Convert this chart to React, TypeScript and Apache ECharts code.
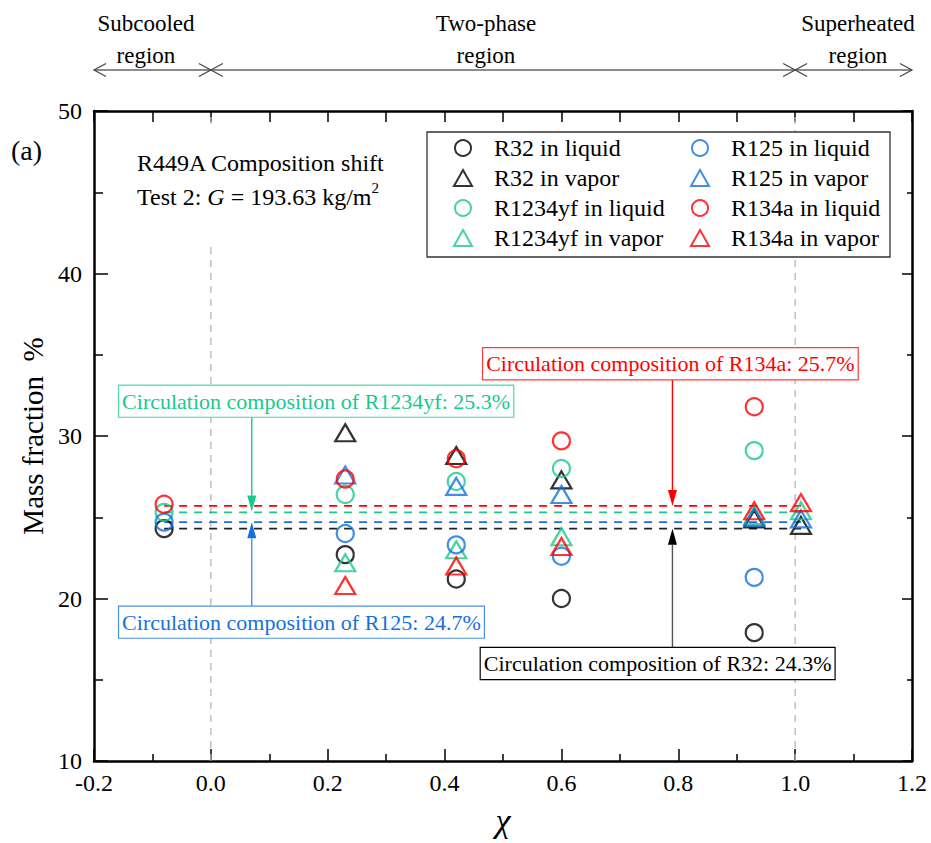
import React, { useEffect, useRef } from 'react';
import * as echarts from 'echarts';

const FONT = 'Liberation Serif';
const AXIS_FONT = "'Times New Roman', 'Liberation Serif', serif";

const C_R32 = '#000000';
const C_R1234YF = '#19c98b';
const C_R125 = '#1570e0';
const C_R134A = '#ff0000';

// vapor quality positions
const liquidX = [-0.08, 0.23, 0.42, 0.6, 0.93];
const vaporX = [0.23, 0.42, 0.6, 0.93, 1.01];

// mass fractions (%)
const r32Liquid = [24.3, 22.7, 21.2, 20.0, 17.9];
const r32Vapor = [30.2, 28.8, 27.3, 24.9, 24.5];
const r1234yfLiquid = [25.3, 26.4, 27.2, 28.0, 29.1];
const r1234yfVapor = [22.2, 23.0, 23.8, 25.1, 25.4];
const r125Liquid = [24.7, 24.0, 23.3, 22.6, 21.3];
const r125Vapor = [27.6, 26.9, 26.4, 25.0, 24.9];
const r134aLiquid = [25.8, 27.35, 28.6, 29.7, 31.8];
const r134aVapor = [20.8, 22.0, 23.2, 25.4, 25.9];

// circulation compositions (%)
const circR32 = 24.3;
const circR1234yf = 25.3;
const circR125 = 24.7;
const circR134a = 25.7;
const circStartX = -0.08;
const circEndX = 1.01;

// axes
const xMin = -0.2;
const xMax = 1.2;
const xInterval = 0.2;
const yMin = 10;
const yMax = 50;
const yInterval = 10;

// region boundaries
const boundaries = [0.0, 1.0];

const zip = (xs: number[], ys: number[]) => xs.map((x, i) => [x, ys[i]]);

const seriesDefs = [
  { name: 'R32 in liquid', xs: liquidX, ys: r32Liquid, color: C_R32, symbol: 'circle' },
  { name: 'R32 in vapor', xs: vaporX, ys: r32Vapor, color: C_R32, symbol: 'triangle' },
  { name: 'R1234yf in liquid', xs: liquidX, ys: r1234yfLiquid, color: C_R1234YF, symbol: 'circle' },
  { name: 'R1234yf in vapor', xs: vaporX, ys: r1234yfVapor, color: C_R1234YF, symbol: 'triangle' },
  { name: 'R125 in liquid', xs: liquidX, ys: r125Liquid, color: C_R125, symbol: 'circle' },
  { name: 'R125 in vapor', xs: vaporX, ys: r125Vapor, color: C_R125, symbol: 'triangle' },
  { name: 'R134a in liquid', xs: liquidX, ys: r134aLiquid, color: C_R134A, symbol: 'circle' },
  { name: 'R134a in vapor', xs: vaporX, ys: r134aVapor, color: C_R134A, symbol: 'triangle' },
];

const circDefs = [
  { v: circR134a, color: C_R134A },
  { v: circR1234yf, color: C_R1234YF },
  { v: circR125, color: C_R125 },
  { v: circR32, color: '#222222' },
];

function legendItem(d: any) {
  return {
    name: d.name,
    icon: d.symbol,
    itemStyle: { color: 'rgba(0,0,0,0)', borderColor: d.color, borderWidth: 2 },
  };
}

export default function App() {
  const ref = useRef<HTMLDivElement>(null);

  useEffect(() => {
    document.body.style.margin = '0';
    const el = ref.current!;
    const chart = echarts.init(el, null, { renderer: 'svg' });

    const axisCommon = {
      axisLine: { show: true, onZero: false, lineStyle: { color: '#000', width: 2.5 } },
      splitLine: { show: false },
      minorSplitLine: { show: false },
    };

    const legendCommon = {
      orient: 'vertical',
      top: 136,
      itemWidth: 18,
      itemHeight: 16,
      itemGap: 6,
      padding: 0,
      selectedMode: false,
      symbolKeepAspect: true,
      textStyle: { fontFamily: FONT, fontSize: 24, color: '#000', padding: [0, 0, 0, 17] },
      z: 10,
    };

    const option: any = {
      animation: false,
      backgroundColor: '#fff',
      textStyle: { fontFamily: FONT },
      grid: { left: 94, right: 19, top: 111, bottom: 82, containLabel: false },
      xAxis: [
        {
          type: 'value',
          position: 'bottom',
          min: xMin,
          max: xMax,
          interval: xInterval,
          ...axisCommon,
          axisTick: { show: true, inside: true, length: 12, lineStyle: { color: '#000', width: 1.5 } },
          minorTick: { show: true, splitNumber: 2, length: 7, lineStyle: { color: '#000', width: 1.5 } },
          axisLabel: {
            fontFamily: AXIS_FONT,
            fontSize: 24,
            color: '#000',
            margin: 10,
            formatter: (v: number) => v.toFixed(1),
          },
          name: 'χ',
          nameLocation: 'middle',
          nameGap: 42,
          nameTextStyle: { fontFamily: AXIS_FONT, fontSize: 34, fontStyle: 'italic', color: '#000' },
        },
        {
          type: 'value',
          position: 'top',
          min: xMin,
          max: xMax,
          interval: xInterval,
          ...axisCommon,
          axisTick: { show: true, inside: true, length: 11, lineStyle: { color: '#000', width: 1.5 } },
          minorTick: { show: true, splitNumber: 2, length: 11, lineStyle: { color: '#000', width: 1.5 } },
          axisLabel: { show: false },
        },
      ],
      yAxis: [
        {
          type: 'value',
          position: 'left',
          min: yMin,
          max: yMax,
          interval: yInterval,
          ...axisCommon,
          axisTick: { show: true, inside: true, length: 14, lineStyle: { color: '#000', width: 1.5 } },
          minorTick: { show: true, splitNumber: 2, length: 9, lineStyle: { color: '#000', width: 1.5 } },
          axisLabel: { fontFamily: AXIS_FONT, fontSize: 24, color: '#000', margin: 12 },
          name: 'Mass fraction  %',
          nameLocation: 'middle',
          nameGap: 42,
          nameTextStyle: { fontFamily: FONT, fontSize: 29, color: '#000' },
        },
        {
          type: 'value',
          position: 'right',
          min: yMin,
          max: yMax,
          interval: yInterval,
          ...axisCommon,
          axisTick: { show: true, inside: true, length: 10, lineStyle: { color: '#000', width: 1.5 } },
          minorTick: { show: true, splitNumber: 2, length: 5, lineStyle: { color: '#000', width: 1.5 } },
          axisLabel: { show: false },
        },
      ],
      legend: [
        { ...legendCommon, left: 453, data: seriesDefs.slice(0, 4).map(legendItem) },
        { ...legendCommon, left: 690, data: seriesDefs.slice(4).map(legendItem) },
      ],
      series: [
        ...boundaries.map((b) => ({
          type: 'line',
          silent: true,
          symbol: 'none',
          z: 1,
          data: [
            [b, yMin],
            [b, yMax],
          ],
          lineStyle: { color: '#b5b5b5', width: 1.3, type: [7, 6] },
        })),
        ...circDefs.map((c) => ({
          type: 'line',
          silent: true,
          symbol: 'none',
          z: 2,
          data: [
            [circStartX, c.v],
            [circEndX, c.v],
          ],
          lineStyle: { color: c.color, width: 1.6, type: [8, 7] },
        })),
        ...seriesDefs.map((d) => ({
          name: d.name,
          type: 'scatter',
          symbol: d.symbol,
          symbolSize: d.symbol === 'circle' ? 17 : [20, 17],
          z: 5,
          data: zip(d.xs, d.ys),
          itemStyle: { color: 'rgba(0,0,0,0)', borderColor: d.color, borderWidth: 2.2 },
        })),
      ],
    };

    chart.setOption(option);

    const px = (x: number, y: number) => chart.convertToPixel({ xAxisIndex: 0, yAxisIndex: 0 }, [x, y]) as number[];

    const BOX_H = 31;
    const boxText = (text: string, x: number, y: number, color: string, border: string) => ({
      type: 'text',
      z: 20,
      silent: true,
      style: {
        x,
        y,
        text,
        fontFamily: FONT,
        fontSize: 22,
        lineHeight: 23,
        fill: color,
        backgroundColor: '#fff',
        borderColor: border,
        borderWidth: 1.2,
        padding: [4, 3, 4, 3],
        align: 'left',
        verticalAlign: 'top',
      },
    });

    const arrow = (x: number, yFrom: number, yTo: number, lineColor: string, headColor: string) => {
      const dir = yTo > yFrom ? 1 : -1;
      const L = 16;
      const W = 4.5;
      return [
        {
          type: 'line',
          z: 15,
          silent: true,
          shape: { x1: x, y1: yFrom, x2: x, y2: yTo - dir * L },
          style: { stroke: lineColor, lineWidth: 1.4 },
        },
        {
          type: 'polygon',
          z: 15,
          silent: true,
          shape: { points: [[x, yTo], [x - W, yTo - dir * L], [x + W, yTo - dir * L]] },
          style: { fill: headColor },
        },
      ];
    };

    const elements: any[] = [];

    // annotation boxes with arrows
    const gTL = px(-0.157, 33.1);
    const gArrowX = px(0.07, circR1234yf)[0];
    elements.push(boxText('Circulation composition of R1234yf: 25.3%', gTL[0], gTL[1], C_R1234YF, '#4fd8a5'));
    elements.push(...arrow(gArrowX, gTL[1] + BOX_H, px(0.07, circR1234yf + 0.05)[1], C_R1234YF, C_R1234YF));

    const bTL = px(-0.157, 19.5);
    elements.push(boxText('Circulation composition of R125: 24.7%', bTL[0], bTL[1], C_R125, '#4a90e2'));
    elements.push(...arrow(gArrowX, bTL[1], px(0.07, circR125)[1], '#4a90e2', C_R125));

    const rTL = px(0.466, 35.4);
    const rArrowX = px(0.79, circR134a)[0];
    elements.push(boxText('Circulation composition of R134a: 25.7%', rTL[0], rTL[1], C_R134A, '#ff3a3a'));
    elements.push(...arrow(rArrowX, rTL[1] + BOX_H, px(0.79, circR134a)[1], C_R134A, C_R134A));

    const kTL = px(0.462, 16.95);
    elements.push(boxText('Circulation composition of R32: 24.3%', kTL[0], kTL[1], '#000', '#000'));
    elements.push(...arrow(rArrowX, kTL[1], px(0.79, circR32)[1], '#555', '#000'));

    // legend frame
    elements.push({
      type: 'rect',
      z: 8,
      silent: true,
      shape: { x: 427, y: 132, width: 463, height: 125 },
      style: { fill: '#fff', stroke: '#333', lineWidth: 1.3 },
    });

    // inset description
    elements.push({
      type: 'text',
      z: 8,
      silent: true,
      style: {
        x: 137,
        y: 125,
        text: '{n|R449A Composition shift}\n{n|Test 2: }{i|G}{n| = 193.63 kg/m}{s|2}',
        backgroundColor: '#fff',
        padding: [21, 4, 31, 0],
        align: 'left',
        verticalAlign: 'top',
        rich: {
          n: { fontFamily: FONT, fontSize: 24, lineHeight: 34, fill: '#000' },
          i: { fontFamily: FONT, fontSize: 24, lineHeight: 34, fontStyle: 'italic', fill: '#000' },
          s: { fontFamily: FONT, fontSize: 15, lineHeight: 34, verticalAlign: 'top', padding: [0, 0, 12, 0], fill: '#000' },
        },
      },
    });

    // panel label
    elements.push({
      type: 'text',
      silent: true,
      style: { x: 11, y: 150, text: '(a)', fontFamily: FONT, fontSize: 28, fill: '#000', verticalAlign: 'middle' },
    });

    // region annotations on top
    const xL = px(xMin, yMax)[0];
    const xR = px(xMax, yMax)[0];
    const x0 = px(boundaries[0], yMax)[0];
    const x1 = px(boundaries[1], yMax)[0];
    const ay = 70;
    const ac = '#444';
    const aw = 12;
    const ah = 6.5;
    elements.push({ type: 'line', silent: true, shape: { x1: xL, y1: ay, x2: xR, y2: ay }, style: { stroke: '#666', lineWidth: 1.3 } });
    const chevron = (tipX: number, dir: number) => ({
      type: 'polyline',
      silent: true,
      shape: { points: [[tipX - dir * aw, ay - ah], [tipX, ay], [tipX - dir * aw, ay + ah]] },
      style: { stroke: ac, lineWidth: 1.2, fill: 'none' },
    });
    elements.push(chevron(xL, -1), chevron(x0, 1), chevron(x0, -1), chevron(x1, 1), chevron(x1, -1), chevron(xR, 1));

    const regionText = (cx: number, txt: string) => ({
      type: 'text',
      silent: true,
      style: {
        x: cx,
        y: 39,
        text: txt,
        fontFamily: FONT,
        fontSize: 23,
        lineHeight: 32,
        fill: '#000',
        align: 'center',
        verticalAlign: 'middle',
      },
    });
    elements.push(regionText(146, 'Subcooled\nregion'));
    elements.push(regionText(486, 'Two-phase\nregion'));
    elements.push(regionText(858, 'Superheated\nregion'));

    chart.setOption({ graphic: { elements } });

    return () => {
      chart.dispose();
    };
  }, []);

  return <div ref={ref} style={{ width: 931, height: 843 }} />;
}
